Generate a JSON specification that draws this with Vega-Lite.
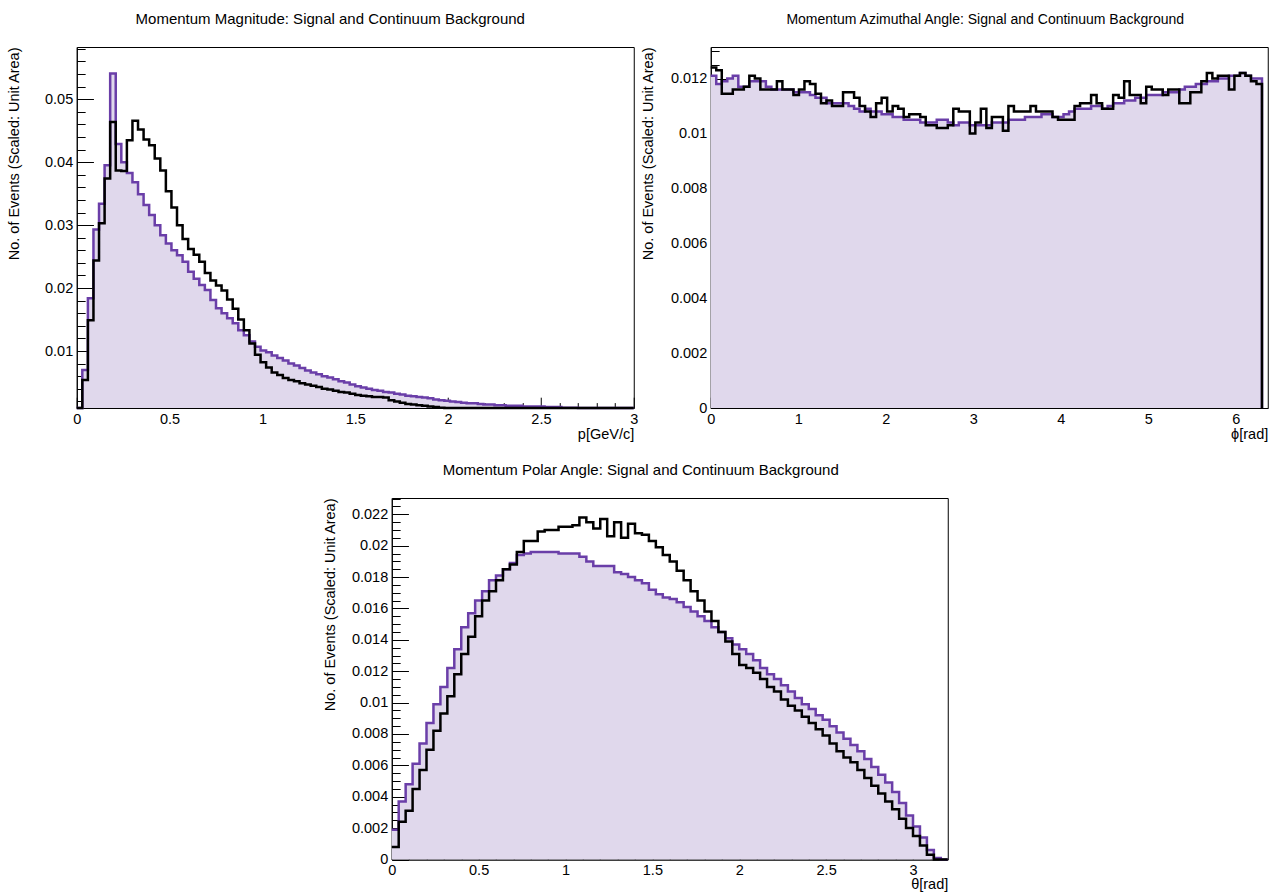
{
  "$schema": "https://vega.github.io/schema/vega-lite/v6.json",
  "background": "white",
  "padding": {"left": 5.5, "top": 11, "right": 4, "bottom": 4},
  "datasets": {
    "momentum": [
      {"lo":0,"signal":0.0005,"continuum":0.0005},
      {"lo":0.03,"signal":0.0054,"continuum":0.007},
      {"lo":0.06,"signal":0.0149,"continuum":0.0184},
      {"lo":0.09,"signal":0.0244,"continuum":0.0293},
      {"lo":0.12,"signal":0.0303,"continuum":0.0334},
      {"lo":0.15,"signal":0.0374,"continuum":0.0395},
      {"lo":0.18,"signal":0.0464,"continuum":0.0541},
      {"lo":0.21,"signal":0.0387,"continuum":0.0429},
      {"lo":0.24,"signal":0.0386,"continuum":0.04},
      {"lo":0.27,"signal":0.0435,"continuum":0.0383},
      {"lo":0.3,"signal":0.0466,"continuum":0.0368},
      {"lo":0.33,"signal":0.0452,"continuum":0.0349},
      {"lo":0.36,"signal":0.0436,"continuum":0.0332},
      {"lo":0.39,"signal":0.0427,"continuum":0.0316},
      {"lo":0.42,"signal":0.0406,"continuum":0.03},
      {"lo":0.45,"signal":0.0387,"continuum":0.0284},
      {"lo":0.48,"signal":0.0354,"continuum":0.0271},
      {"lo":0.51,"signal":0.0328,"continuum":0.026},
      {"lo":0.54,"signal":0.03,"continuum":0.0252},
      {"lo":0.57,"signal":0.0278,"continuum":0.0242},
      {"lo":0.6,"signal":0.0262,"continuum":0.0226},
      {"lo":0.63,"signal":0.0253,"continuum":0.0215},
      {"lo":0.66,"signal":0.0242,"continuum":0.0205},
      {"lo":0.69,"signal":0.0224,"continuum":0.0197},
      {"lo":0.72,"signal":0.0212,"continuum":0.0181},
      {"lo":0.75,"signal":0.0204,"continuum":0.0168},
      {"lo":0.78,"signal":0.0196,"continuum":0.016},
      {"lo":0.81,"signal":0.0182,"continuum":0.0152},
      {"lo":0.84,"signal":0.0167,"continuum":0.0144},
      {"lo":0.87,"signal":0.015,"continuum":0.0133},
      {"lo":0.9,"signal":0.0133,"continuum":0.0125},
      {"lo":0.93,"signal":0.0112,"continuum":0.0115},
      {"lo":0.96,"signal":0.0094,"continuum":0.0107},
      {"lo":0.99,"signal":0.0082,"continuum":0.0101},
      {"lo":1.02,"signal":0.0074,"continuum":0.0098},
      {"lo":1.05,"signal":0.0066,"continuum":0.0093},
      {"lo":1.08,"signal":0.0062,"continuum":0.0089},
      {"lo":1.11,"signal":0.0057,"continuum":0.0085},
      {"lo":1.14,"signal":0.0054,"continuum":0.008},
      {"lo":1.17,"signal":0.0052,"continuum":0.0077},
      {"lo":1.2,"signal":0.0049,"continuum":0.0073},
      {"lo":1.23,"signal":0.0047,"continuum":0.0069},
      {"lo":1.26,"signal":0.0045,"continuum":0.0066},
      {"lo":1.29,"signal":0.0043,"continuum":0.0063},
      {"lo":1.32,"signal":0.004,"continuum":0.006},
      {"lo":1.35,"signal":0.0039,"continuum":0.0058},
      {"lo":1.38,"signal":0.0037,"continuum":0.0055},
      {"lo":1.41,"signal":0.0035,"continuum":0.0052},
      {"lo":1.44,"signal":0.0034,"continuum":0.005},
      {"lo":1.47,"signal":0.0032,"continuum":0.0047},
      {"lo":1.5,"signal":0.003,"continuum":0.0044},
      {"lo":1.53,"signal":0.0029,"continuum":0.0042},
      {"lo":1.56,"signal":0.0028,"continuum":0.004},
      {"lo":1.59,"signal":0.0027,"continuum":0.0038},
      {"lo":1.62,"signal":0.0027,"continuum":0.0037},
      {"lo":1.65,"signal":0.0026,"continuum":0.0035},
      {"lo":1.68,"signal":0.0022,"continuum":0.0034},
      {"lo":1.71,"signal":0.002,"continuum":0.0032},
      {"lo":1.74,"signal":0.0018,"continuum":0.0031},
      {"lo":1.77,"signal":0.0016,"continuum":0.0029},
      {"lo":1.8,"signal":0.0015,"continuum":0.0028},
      {"lo":1.83,"signal":0.0014,"continuum":0.0027},
      {"lo":1.86,"signal":0.0013,"continuum":0.0026},
      {"lo":1.89,"signal":0.0012,"continuum":0.0025},
      {"lo":1.92,"signal":0.0011,"continuum":0.0023},
      {"lo":1.95,"signal":0.001,"continuum":0.0022},
      {"lo":1.98,"signal":0.0009,"continuum":0.0021},
      {"lo":2.01,"signal":0.0009,"continuum":0.002},
      {"lo":2.04,"signal":0.0008,"continuum":0.0019},
      {"lo":2.07,"signal":0.0008,"continuum":0.0018},
      {"lo":2.1,"signal":0.0007,"continuum":0.0017},
      {"lo":2.13,"signal":0.0007,"continuum":0.0017},
      {"lo":2.16,"signal":0.0006,"continuum":0.0016},
      {"lo":2.19,"signal":0.0006,"continuum":0.0015},
      {"lo":2.22,"signal":0.0005,"continuum":0.0015},
      {"lo":2.25,"signal":0.0005,"continuum":0.0014},
      {"lo":2.28,"signal":0.0005,"continuum":0.0014},
      {"lo":2.31,"signal":0.0004,"continuum":0.0013},
      {"lo":2.34,"signal":0.0004,"continuum":0.0013},
      {"lo":2.37,"signal":0.0004,"continuum":0.0013},
      {"lo":2.4,"signal":0.0003,"continuum":0.0012},
      {"lo":2.43,"signal":0.0003,"continuum":0.0012},
      {"lo":2.46,"signal":0.0003,"continuum":0.0012},
      {"lo":2.49,"signal":0.0003,"continuum":0.0012},
      {"lo":2.52,"signal":0.0002,"continuum":0.0011},
      {"lo":2.55,"signal":0.0002,"continuum":0.0011},
      {"lo":2.58,"signal":0.0002,"continuum":0.0011},
      {"lo":2.61,"signal":0.0002,"continuum":0.001},
      {"lo":2.64,"signal":0.0002,"continuum":0.001},
      {"lo":2.67,"signal":0.0002,"continuum":0.001},
      {"lo":2.7,"signal":0.0001,"continuum":0.0009},
      {"lo":2.73,"signal":0.0001,"continuum":0.0009},
      {"lo":2.76,"signal":0.0001,"continuum":0.0009},
      {"lo":2.79,"signal":0.0001,"continuum":0.0009},
      {"lo":2.82,"signal":0.0001,"continuum":0.0008},
      {"lo":2.85,"signal":0.0001,"continuum":0.0008},
      {"lo":2.88,"signal":0.0001,"continuum":0.0008},
      {"lo":2.91,"signal":0.0001,"continuum":0.0008},
      {"lo":2.94,"signal":0.0001,"continuum":0.0007},
      {"lo":2.97,"signal":0.0001,"continuum":0.0007},
      {"lo":3.0,"signal":0,"continuum":0}
    ],
    "azimuth": [
      {"lo":0,"signal":0.0124,"continuum":0.0121},
      {"lo":0.063,"signal":0.0123,"continuum":0.0118},
      {"lo":0.126,"signal":0.01145,"continuum":0.0119},
      {"lo":0.189,"signal":0.01145,"continuum":0.012},
      {"lo":0.252,"signal":0.0116,"continuum":0.0121},
      {"lo":0.315,"signal":0.0116,"continuum":0.0117},
      {"lo":0.378,"signal":0.0117,"continuum":0.0117},
      {"lo":0.441,"signal":0.0121,"continuum":0.0119},
      {"lo":0.504,"signal":0.012,"continuum":0.0119},
      {"lo":0.567,"signal":0.0116,"continuum":0.0119},
      {"lo":0.63,"signal":0.0116,"continuum":0.0117},
      {"lo":0.693,"signal":0.0116,"continuum":0.0116},
      {"lo":0.756,"signal":0.0119,"continuum":0.0116},
      {"lo":0.819,"signal":0.0116,"continuum":0.0116},
      {"lo":0.882,"signal":0.0116,"continuum":0.0116},
      {"lo":0.945,"signal":0.0114,"continuum":0.0115},
      {"lo":1.008,"signal":0.0116,"continuum":0.0115},
      {"lo":1.071,"signal":0.0119,"continuum":0.0115},
      {"lo":1.134,"signal":0.0118,"continuum":0.0114},
      {"lo":1.197,"signal":0.01145,"continuum":0.0113},
      {"lo":1.26,"signal":0.0111,"continuum":0.0113},
      {"lo":1.323,"signal":0.0112,"continuum":0.0111},
      {"lo":1.386,"signal":0.011,"continuum":0.0111},
      {"lo":1.449,"signal":0.011,"continuum":0.0111},
      {"lo":1.512,"signal":0.0115,"continuum":0.0111},
      {"lo":1.575,"signal":0.0115,"continuum":0.011},
      {"lo":1.638,"signal":0.0113,"continuum":0.0109},
      {"lo":1.701,"signal":0.011,"continuum":0.0108},
      {"lo":1.764,"signal":0.0108,"continuum":0.0109},
      {"lo":1.827,"signal":0.0106,"continuum":0.0108},
      {"lo":1.89,"signal":0.0111,"continuum":0.0108},
      {"lo":1.953,"signal":0.0113,"continuum":0.0107},
      {"lo":2.016,"signal":0.0108,"continuum":0.0107},
      {"lo":2.079,"signal":0.011,"continuum":0.0106},
      {"lo":2.142,"signal":0.0109,"continuum":0.0106},
      {"lo":2.205,"signal":0.0106,"continuum":0.0105},
      {"lo":2.268,"signal":0.0107,"continuum":0.0105},
      {"lo":2.331,"signal":0.0107,"continuum":0.0105},
      {"lo":2.394,"signal":0.0106,"continuum":0.0104},
      {"lo":2.457,"signal":0.0103,"continuum":0.0104},
      {"lo":2.52,"signal":0.0103,"continuum":0.0104},
      {"lo":2.583,"signal":0.0102,"continuum":0.0105},
      {"lo":2.646,"signal":0.0102,"continuum":0.0105},
      {"lo":2.709,"signal":0.0103,"continuum":0.0104},
      {"lo":2.772,"signal":0.0109,"continuum":0.0103},
      {"lo":2.835,"signal":0.0108,"continuum":0.0104},
      {"lo":2.898,"signal":0.0108,"continuum":0.0104},
      {"lo":2.961,"signal":0.01,"continuum":0.0103},
      {"lo":3.024,"signal":0.0104,"continuum":0.0103},
      {"lo":3.087,"signal":0.0109,"continuum":0.0103},
      {"lo":3.15,"signal":0.0102,"continuum":0.0103},
      {"lo":3.213,"signal":0.0106,"continuum":0.0104},
      {"lo":3.276,"signal":0.0106,"continuum":0.0104},
      {"lo":3.339,"signal":0.0101,"continuum":0.0104},
      {"lo":3.402,"signal":0.011,"continuum":0.0105},
      {"lo":3.465,"signal":0.0108,"continuum":0.0105},
      {"lo":3.528,"signal":0.0108,"continuum":0.0105},
      {"lo":3.591,"signal":0.0108,"continuum":0.0106},
      {"lo":3.654,"signal":0.011,"continuum":0.0106},
      {"lo":3.717,"signal":0.0108,"continuum":0.0106},
      {"lo":3.78,"signal":0.0108,"continuum":0.0107},
      {"lo":3.843,"signal":0.0108,"continuum":0.0107},
      {"lo":3.906,"signal":0.0106,"continuum":0.0106},
      {"lo":3.969,"signal":0.0105,"continuum":0.0106},
      {"lo":4.032,"signal":0.0105,"continuum":0.0107},
      {"lo":4.095,"signal":0.0105,"continuum":0.0108},
      {"lo":4.158,"signal":0.011,"continuum":0.0109},
      {"lo":4.221,"signal":0.0111,"continuum":0.0109},
      {"lo":4.284,"signal":0.0111,"continuum":0.0109},
      {"lo":4.347,"signal":0.0114,"continuum":0.011},
      {"lo":4.41,"signal":0.0111,"continuum":0.011},
      {"lo":4.473,"signal":0.0109,"continuum":0.0109},
      {"lo":4.536,"signal":0.0109,"continuum":0.011},
      {"lo":4.599,"signal":0.0114,"continuum":0.0111},
      {"lo":4.662,"signal":0.0113,"continuum":0.0111},
      {"lo":4.725,"signal":0.0119,"continuum":0.0112},
      {"lo":4.788,"signal":0.0114,"continuum":0.0112},
      {"lo":4.851,"signal":0.0114,"continuum":0.0113},
      {"lo":4.914,"signal":0.0111,"continuum":0.0113},
      {"lo":4.977,"signal":0.0117,"continuum":0.0114},
      {"lo":5.04,"signal":0.0116,"continuum":0.0114},
      {"lo":5.103,"signal":0.0116,"continuum":0.0114},
      {"lo":5.166,"signal":0.0114,"continuum":0.0115},
      {"lo":5.229,"signal":0.0116,"continuum":0.0115},
      {"lo":5.292,"signal":0.0116,"continuum":0.0115},
      {"lo":5.355,"signal":0.0111,"continuum":0.0116},
      {"lo":5.418,"signal":0.0111,"continuum":0.0117},
      {"lo":5.481,"signal":0.0115,"continuum":0.0117},
      {"lo":5.544,"signal":0.0115,"continuum":0.0118},
      {"lo":5.607,"signal":0.0119,"continuum":0.0118},
      {"lo":5.67,"signal":0.0122,"continuum":0.0119},
      {"lo":5.733,"signal":0.012,"continuum":0.0119},
      {"lo":5.796,"signal":0.0121,"continuum":0.012},
      {"lo":5.859,"signal":0.0121,"continuum":0.012},
      {"lo":5.922,"signal":0.0116,"continuum":0.0121},
      {"lo":5.985,"signal":0.0121,"continuum":0.0121},
      {"lo":6.048,"signal":0.0122,"continuum":0.0122},
      {"lo":6.111,"signal":0.0121,"continuum":0.0121},
      {"lo":6.174,"signal":0.0119,"continuum":0.012},
      {"lo":6.237,"signal":0.0118,"continuum":0.012},
      {"lo":6.3,"signal":0,"continuum":0}
    ],
    "polar": [
      {"lo":0,"signal":0.0008,"continuum":0.0019},
      {"lo":0.04,"signal":0.0024,"continuum":0.0037},
      {"lo":0.08,"signal":0.0031,"continuum":0.0048},
      {"lo":0.12,"signal":0.0045,"continuum":0.0061},
      {"lo":0.16,"signal":0.0057,"continuum":0.0074},
      {"lo":0.2,"signal":0.007,"continuum":0.0087},
      {"lo":0.24,"signal":0.0082,"continuum":0.0099},
      {"lo":0.28,"signal":0.0093,"continuum":0.011},
      {"lo":0.32,"signal":0.0104,"continuum":0.0122},
      {"lo":0.36,"signal":0.0118,"continuum":0.0134},
      {"lo":0.4,"signal":0.0131,"continuum":0.0148},
      {"lo":0.44,"signal":0.0142,"continuum":0.0157},
      {"lo":0.48,"signal":0.0155,"continuum":0.0165},
      {"lo":0.52,"signal":0.0165,"continuum":0.0171},
      {"lo":0.56,"signal":0.0171,"continuum":0.0178},
      {"lo":0.6,"signal":0.0178,"continuum":0.0181},
      {"lo":0.64,"signal":0.0185,"continuum":0.0185},
      {"lo":0.68,"signal":0.0188,"continuum":0.0189},
      {"lo":0.72,"signal":0.0196,"continuum":0.0194},
      {"lo":0.76,"signal":0.0203,"continuum":0.0195},
      {"lo":0.8,"signal":0.0203,"continuum":0.0196},
      {"lo":0.84,"signal":0.0209,"continuum":0.0196},
      {"lo":0.88,"signal":0.021,"continuum":0.0196},
      {"lo":0.92,"signal":0.021,"continuum":0.0196},
      {"lo":0.96,"signal":0.0212,"continuum":0.0195},
      {"lo":1.0,"signal":0.0212,"continuum":0.0195},
      {"lo":1.04,"signal":0.0213,"continuum":0.0195},
      {"lo":1.08,"signal":0.0218,"continuum":0.0193},
      {"lo":1.12,"signal":0.0215,"continuum":0.019},
      {"lo":1.16,"signal":0.0211,"continuum":0.0187},
      {"lo":1.2,"signal":0.0217,"continuum":0.0187},
      {"lo":1.24,"signal":0.0206,"continuum":0.0187},
      {"lo":1.28,"signal":0.0215,"continuum":0.0183},
      {"lo":1.32,"signal":0.0205,"continuum":0.0182},
      {"lo":1.36,"signal":0.0214,"continuum":0.018},
      {"lo":1.4,"signal":0.0208,"continuum":0.0178},
      {"lo":1.44,"signal":0.0207,"continuum":0.0176},
      {"lo":1.48,"signal":0.0203,"continuum":0.0172},
      {"lo":1.52,"signal":0.0199,"continuum":0.0169},
      {"lo":1.56,"signal":0.0194,"continuum":0.0167},
      {"lo":1.6,"signal":0.019,"continuum":0.0166},
      {"lo":1.64,"signal":0.0184,"continuum":0.0164},
      {"lo":1.68,"signal":0.0178,"continuum":0.0161},
      {"lo":1.72,"signal":0.0171,"continuum":0.0158},
      {"lo":1.76,"signal":0.0165,"continuum":0.0155},
      {"lo":1.8,"signal":0.0158,"continuum":0.0152},
      {"lo":1.84,"signal":0.0152,"continuum":0.0148},
      {"lo":1.88,"signal":0.0145,"continuum":0.0145},
      {"lo":1.92,"signal":0.0139,"continuum":0.0141},
      {"lo":1.96,"signal":0.0131,"continuum":0.0137},
      {"lo":2.0,"signal":0.0124,"continuum":0.0134},
      {"lo":2.04,"signal":0.0122,"continuum":0.0131},
      {"lo":2.08,"signal":0.0119,"continuum":0.0127},
      {"lo":2.12,"signal":0.0115,"continuum":0.0122},
      {"lo":2.16,"signal":0.011,"continuum":0.0118},
      {"lo":2.2,"signal":0.0107,"continuum":0.0115},
      {"lo":2.24,"signal":0.0102,"continuum":0.0111},
      {"lo":2.28,"signal":0.0098,"continuum":0.0107},
      {"lo":2.32,"signal":0.0095,"continuum":0.0103},
      {"lo":2.36,"signal":0.0091,"continuum":0.0099},
      {"lo":2.4,"signal":0.0087,"continuum":0.0096},
      {"lo":2.44,"signal":0.0083,"continuum":0.0092},
      {"lo":2.48,"signal":0.0079,"continuum":0.0089},
      {"lo":2.52,"signal":0.0074,"continuum":0.0085},
      {"lo":2.56,"signal":0.0069,"continuum":0.0081},
      {"lo":2.6,"signal":0.0065,"continuum":0.0077},
      {"lo":2.64,"signal":0.0062,"continuum":0.0073},
      {"lo":2.68,"signal":0.0057,"continuum":0.0069},
      {"lo":2.72,"signal":0.0052,"continuum":0.0064},
      {"lo":2.76,"signal":0.0047,"continuum":0.0059},
      {"lo":2.8,"signal":0.0042,"continuum":0.0054},
      {"lo":2.84,"signal":0.0037,"continuum":0.0049},
      {"lo":2.88,"signal":0.0032,"continuum":0.0043},
      {"lo":2.92,"signal":0.0026,"continuum":0.0036},
      {"lo":2.96,"signal":0.002,"continuum":0.0028},
      {"lo":3.0,"signal":0.0015,"continuum":0.0021},
      {"lo":3.04,"signal":0.0009,"continuum":0.0014},
      {"lo":3.08,"signal":0.0003,"continuum":0.0006},
      {"lo":3.12,"signal":0,"continuum":0.0001},
      {"lo":3.16,"signal":0,"continuum":0},
      {"lo":3.2,"signal":0,"continuum":0}
    ]
  },
  "vconcat": [
    {
      "hconcat": [
        {
          "width": 557,
          "height": 361,
          "title": {"text": "Momentum Magnitude: Signal and Continuum Background", "fontSize": 15, "dx": -25, "offset": 20},
          "data": {"name": "momentum"},
          "layer": [
            {
              "mark": {"type": "area", "interpolate": "step-after", "color": "#e0d8ec"},
              "encoding": {
                "x": {"field": "lo", "type": "quantitative", "scale": {"domain": [0, 3], "nice": false, "zero": false},
                      "axis": {"orient": "bottom", "values": [0, 0.5, 1, 1.5, 2, 2.5, 3], "format": "~g", "ticks": false, "labelPadding": 4, "labelFlush": false, "labelOverlap": false,
                               "title": "p[GeV/c]", "titleAnchor": "end", "titleAlign": "right", "titleBaseline": "middle", "titleX": 557, "titleY": 26}},
                "y": {"field": "continuum", "type": "quantitative", "scale": {"domain": [0.00095, 0.0583], "nice": false, "zero": false, "clamp": true},
                      "axis": {"orient": "left", "values": [0.01, 0.02, 0.03, 0.04, 0.05], "format": "~g", "ticks": false, "labelPadding": 4, "labelFlush": false, "labelOverlap": false,
                               "title": "No. of Events (Scaled: Unit Area)", "titleAlign": "right", "titleBaseline": "middle", "titleX": -62, "titleY": 0}}
              }
            },
            {
              "mark": {"type": "line", "interpolate": "step-after", "color": "#6a3ea8", "strokeWidth": 2.5},
              "encoding": {
                "x": {"field": "lo", "type": "quantitative", "scale": {"domain": [0, 3], "nice": false, "zero": false},
                      "axis": {"orient": "bottom", "values": [0, 0.5, 1, 1.5, 2, 2.5, 3], "labels": false, "domain": false, "title": null, "tickSize": -10.8}},
                "y": {"field": "continuum", "type": "quantitative", "scale": {"domain": [0.00095, 0.0583], "nice": false, "zero": false, "clamp": true},
                      "axis": {"orient": "left", "values": [0.01, 0.02, 0.03, 0.04, 0.05], "labels": false, "domain": false, "title": null, "tickSize": -16.7}}
              }
            },
            {
              "mark": {"type": "line", "interpolate": "step-after", "color": "black", "strokeWidth": 2.5},
              "encoding": {
                "x": {"field": "lo", "type": "quantitative", "scale": {"domain": [0, 3], "nice": false, "zero": false},
                      "axis": {"orient": "bottom", "values": [0.1, 0.2, 0.3, 0.4, 0.6, 0.7, 0.8, 0.9, 1.1, 1.2, 1.3, 1.4, 1.6, 1.7, 1.8, 1.9, 2.1, 2.2, 2.3, 2.4, 2.6, 2.7, 2.8, 2.9], "labels": false, "domain": false, "title": null, "tickSize": -5.4}},
                "y": {"field": "signal", "type": "quantitative", "scale": {"domain": [0.00095, 0.0583], "nice": false, "zero": false, "clamp": true},
                      "axis": {"orient": "left", "values": [0.002, 0.004, 0.006, 0.008, 0.012, 0.014, 0.016, 0.018, 0.022, 0.024, 0.026, 0.028, 0.032, 0.034, 0.036, 0.038, 0.042, 0.044, 0.046, 0.048, 0.052, 0.054, 0.056, 0.058], "labels": false, "domain": false, "title": null, "tickSize": -8.4}}
              }
            }
          ],
          "resolve": {"axis": {"x": "independent", "y": "independent"}}
        },
        {
          "width": 557,
          "height": 361,
          "title": {"text": "Momentum Azimuthal Angle: Signal and Continuum Background", "fontSize": 14, "dx": -4, "offset": 20},
          "data": {"name": "azimuth"},
          "layer": [
            {
              "mark": {"type": "area", "interpolate": "step-after", "color": "#e0d8ec"},
              "encoding": {
                "x": {"field": "lo", "type": "quantitative", "scale": {"domain": [0, 6.366], "nice": false, "zero": false},
                      "axis": {"orient": "bottom", "values": [0, 1, 2, 3, 4, 5, 6], "format": "~g", "ticks": false, "labelPadding": 4, "labelFlush": false, "labelOverlap": false,
                               "title": "ϕ[rad]", "titleAnchor": "end", "titleAlign": "right", "titleBaseline": "middle", "titleX": 557, "titleY": 26}},
                "y": {"field": "continuum", "type": "quantitative", "scale": {"domain": [0, 0.01315], "nice": false, "zero": false, "clamp": true},
                      "axis": {"orient": "left", "values": [0, 0.002, 0.004, 0.006, 0.008, 0.01, 0.012], "format": "~g", "ticks": false, "labelPadding": 4, "labelFlush": false, "labelOverlap": false,
                               "title": "No. of Events (Scaled: Unit Area)", "titleAlign": "right", "titleBaseline": "middle", "titleX": -62, "titleY": 0}}
              }
            },
            {
              "mark": {"type": "line", "interpolate": "step-after", "color": "#6a3ea8", "strokeWidth": 2.5},
              "encoding": {
                "x": {"field": "lo", "type": "quantitative", "scale": {"domain": [0, 6.366], "nice": false, "zero": false},
                      "axis": {"orient": "bottom", "values": [0, 1, 2, 3, 4, 5, 6], "labels": false, "domain": false, "title": null, "tickSize": -10.8}},
                "y": {"field": "continuum", "type": "quantitative", "scale": {"domain": [0, 0.01315], "nice": false, "zero": false, "clamp": true},
                      "axis": {"orient": "left", "values": [0, 0.002, 0.004, 0.006, 0.008, 0.01, 0.012], "labels": false, "domain": false, "title": null, "tickSize": -16.7}}
              }
            },
            {
              "mark": {"type": "line", "interpolate": "step-after", "color": "black", "strokeWidth": 2.5},
              "encoding": {
                "x": {"field": "lo", "type": "quantitative", "scale": {"domain": [0, 6.366], "nice": false, "zero": false},
                      "axis": {"orient": "bottom", "values": [0.2, 0.4, 0.6, 0.8, 1.2, 1.4, 1.6, 1.8, 2.2, 2.4, 2.6, 2.8, 3.2, 3.4, 3.6, 3.8, 4.2, 4.4, 4.6, 4.8, 5.2, 5.4, 5.6, 5.8, 6.2], "labels": false, "domain": false, "title": null, "tickSize": -5.4}},
                "y": {"field": "signal", "type": "quantitative", "scale": {"domain": [0, 0.01315], "nice": false, "zero": false, "clamp": true},
                      "axis": {"orient": "left", "values": [0.0005, 0.001, 0.0015, 0.0025, 0.003, 0.0035, 0.0045, 0.005, 0.0055, 0.0065, 0.007, 0.0075, 0.0085, 0.009, 0.0095, 0.0105, 0.011, 0.0115, 0.0125, 0.013], "labels": false, "domain": false, "title": null, "tickSize": -8.4}}
              }
            }
          ],
          "resolve": {"axis": {"x": "independent", "y": "independent"}}
        }
      ],
      "spacing": 0
    },
    {
      "width": 556,
      "height": 361.5,
      "title": {"text": "Momentum Polar Angle: Signal and Continuum Background", "fontSize": 15, "dx": -29, "offset": 20},
      "data": {"name": "polar"},
      "layer": [
        {
          "mark": {"type": "area", "interpolate": "step-after", "color": "#e0d8ec"},
          "encoding": {
            "x": {"field": "lo", "type": "quantitative", "scale": {"domain": [0, 3.2], "nice": false, "zero": false},
                  "axis": {"orient": "bottom", "values": [0, 0.5, 1, 1.5, 2, 2.5, 3], "format": "~g", "ticks": false, "labelPadding": 4, "labelFlush": false, "labelOverlap": false,
                           "title": "θ[rad]", "titleAnchor": "end", "titleAlign": "right", "titleBaseline": "middle", "titleX": 556, "titleY": 25}},
            "y": {"field": "continuum", "type": "quantitative", "scale": {"domain": [0, 0.02304], "nice": false, "zero": false, "clamp": true},
                  "axis": {"orient": "left", "values": [0, 0.002, 0.004, 0.006, 0.008, 0.01, 0.012, 0.014, 0.016, 0.018, 0.02, 0.022], "format": "~g", "ticks": false, "labelPadding": 4, "labelFlush": false, "labelOverlap": false,
                           "title": "No. of Events (Scaled: Unit Area)", "titleAlign": "right", "titleBaseline": "middle", "titleX": -61, "titleY": 0}}
          }
        },
        {
          "mark": {"type": "line", "interpolate": "step-after", "color": "#6a3ea8", "strokeWidth": 2.5},
          "encoding": {
            "x": {"field": "lo", "type": "quantitative", "scale": {"domain": [0, 3.2], "nice": false, "zero": false},
                  "axis": {"orient": "bottom", "values": [0, 0.5, 1, 1.5, 2, 2.5, 3], "labels": false, "domain": false, "title": null, "tickSize": -10.8}},
            "y": {"field": "continuum", "type": "quantitative", "scale": {"domain": [0, 0.02304], "nice": false, "zero": false, "clamp": true},
                  "axis": {"orient": "left", "values": [0, 0.002, 0.004, 0.006, 0.008, 0.01, 0.012, 0.014, 0.016, 0.018, 0.02, 0.022], "labels": false, "domain": false, "title": null, "tickSize": -16.7}}
          }
        },
        {
          "mark": {"type": "line", "interpolate": "step-after", "color": "black", "strokeWidth": 2.5},
          "encoding": {
            "x": {"field": "lo", "type": "quantitative", "scale": {"domain": [0, 3.2], "nice": false, "zero": false},
                  "axis": {"orient": "bottom", "values": [0.1, 0.2, 0.3, 0.4, 0.6, 0.7, 0.8, 0.9, 1.1, 1.2, 1.3, 1.4, 1.6, 1.7, 1.8, 1.9, 2.1, 2.2, 2.3, 2.4, 2.6, 2.7, 2.8, 2.9, 3.1], "labels": false, "domain": false, "title": null, "tickSize": -5.4}},
            "y": {"field": "signal", "type": "quantitative", "scale": {"domain": [0, 0.02304], "nice": false, "zero": false, "clamp": true},
                  "axis": {"orient": "left", "values": [0.0005, 0.001, 0.0015, 0.0025, 0.003, 0.0035, 0.0045, 0.005, 0.0055, 0.0065, 0.007, 0.0075, 0.0085, 0.009, 0.0095, 0.0105, 0.011, 0.0115, 0.0125, 0.013, 0.0135, 0.0145, 0.015, 0.0155, 0.0165, 0.017, 0.0175, 0.0185, 0.019, 0.0195, 0.0205, 0.021, 0.0215, 0.0225, 0.023], "labels": false, "domain": false, "title": null, "tickSize": -8.4}}
          }
        }
      ],
      "resolve": {"axis": {"x": "independent", "y": "independent"}}
    }
  ],
  "spacing": 21,
  "center": true,
  "config": {
    "font": "Liberation Sans",
    "view": {"stroke": "black", "strokeWidth": 1},
    "axis": {
      "labelFont": "Liberation Sans", "labelFontSize": 14.5, "labelColor": "black",
      "titleFont": "Liberation Sans", "titleFontSize": 14.5, "titleFontWeight": "normal", "titleColor": "black",
      "domainColor": "black", "domainWidth": 1, "tickColor": "black", "tickWidth": 1, "grid": false
    },
    "title": {"font": "Liberation Sans", "fontWeight": "normal", "color": "black"}
  }
}
